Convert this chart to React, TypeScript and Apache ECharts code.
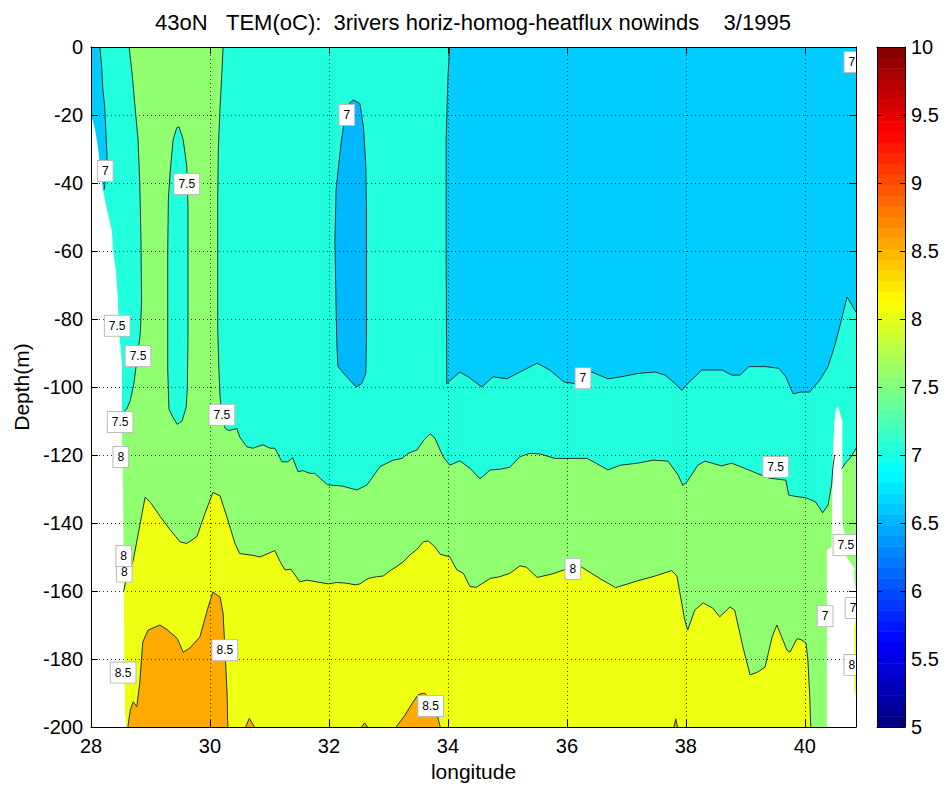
import React, { useEffect, useRef } from 'react';
import * as echarts from 'echarts';

type P = [number, number];

const TITLE = '43oN\u00a0\u00a0\u00a0TEM(oC):\u00a0\u00a03rivers horiz-homog-heatflux nowinds\u00a0\u00a0\u00a0\u00a03/1995';
const X_NAME = 'longitude';
const Y_NAME = 'Depth(m)';
const X_MIN = 28;
const X_MAX = 40.86;
const Y_MIN = -200;
const Y_MAX = 0;
const CB_MIN = 5;
const CB_MAX = 10;

// 7.5 contour: left edge of the green band
const c75Left: P[] = [
  [28.64, 0], [28.69, -7.6], [28.74, -17.6], [28.79, -27], [28.82, -40], [28.84, -57], [28.85, -75],
  [28.83, -84], [28.78, -91], [28.72, -99], [28.66, -104], [28.6, -106.5], [28.53, -107.5],
];
// 7.5 contour: right edge of the green band and the long cyan/green boundary
const c75Main: P[] = [
  [30.22, 0], [30.2, -7.6], [30.17, -17.6], [30.14, -30], [30.13, -45], [30.13, -65], [30.13, -83],
  [30.15, -95], [30.17, -103], [30.21, -109], [30.25, -112], [30.31, -112.8], [30.37, -112.6],
  [30.45, -112.2], [30.5, -114.7], [30.62, -117.6], [30.72, -118], [30.89, -117], [31.01, -118],
  [31.09, -118], [31.21, -122], [31.31, -122], [31.39, -120.8], [31.48, -124.9], [31.56, -124.6],
  [31.68, -125.4], [31.76, -125.4], [31.98, -128.8], [32.22, -129.1], [32.47, -130.3], [32.64, -128.8],
  [32.86, -123.4], [33.08, -121.5], [33.23, -121], [33.33, -119.5], [33.48, -118.5], [33.6, -115.5],
  [33.7, -113.8], [33.78, -115], [33.92, -120.5], [34.03, -123], [34.2, -121.7], [34.37, -123.9],
  [34.54, -127], [34.71, -124.4], [34.87, -124.2], [35.04, -123.6], [35.21, -120.5], [35.38, -119.5],
  [35.55, -119.7], [35.8, -121], [36.0, -121], [36.34, -121], [36.5, -122.5], [36.69, -124.4],
  [36.9, -123], [37.19, -122.4], [37.45, -121.5], [37.7, -121.8], [37.87, -125.9], [37.95, -129],
  [38.03, -127.6], [38.2, -123], [38.32, -121.8], [38.6, -123.2], [38.77, -122.4], [39.0, -124],
  [39.18, -125.3], [39.4, -126.8], [39.68, -127.4], [39.73, -131.8], [39.85, -132.2], [40.02, -132.6],
  [40.18, -133.8], [40.3, -137], [40.39, -134.7], [40.45, -128.8], [40.47, -123.8], [40.5, -120],
];
// 7.5 contour right of the white spike
const c75Spike: P[] = [[40.62, -124], [40.7, -122], [40.78, -120.5], [40.86, -118]];
// closed 7.5 contour (cyan tongue inside green band)
const c75Ellipse: P[] = [
  [29.48, -23.5], [29.55, -27.4], [29.61, -35], [29.63, -47], [29.63, -86], [29.62, -100], [29.6, -106],
  [29.53, -110], [29.45, -111], [29.38, -109], [29.31, -106.5], [29.29, -95], [29.29, -60], [29.3, -45],
  [29.33, -37], [29.38, -27.4], [29.44, -23.8],
];
// 7 contour, large region east of 34E
const c7Right: P[] = [
  [34.03, 0], [34.0, -9], [33.97, -27], [33.97, -60], [33.98, -99], [34.07, -97.6], [34.2, -95.6],
  [34.34, -97], [34.57, -100], [34.76, -97], [34.99, -97.6], [35.21, -95.6], [35.5, -93], [35.71, -95],
  [35.95, -98.5], [36.12, -99], [36.42, -95.6], [36.69, -97.6], [36.91, -97], [37.2, -96], [37.48, -95.6],
  [37.65, -96.5], [37.82, -99], [37.93, -101], [38.03, -99], [38.27, -95], [38.61, -95], [38.77, -96.5],
  [38.91, -96.5], [39.06, -94], [39.34, -94], [39.56, -94.5], [39.68, -97], [39.8, -102], [39.93, -101.5],
  [40.08, -101.5], [40.25, -98], [40.39, -94], [40.5, -88], [40.59, -82], [40.71, -73.5], [40.86, -78],
];
// 7 contour, top-left strip
const c7TopLeft: P[] = [
  [28.15, 0], [28.18, -6], [28.2, -12.6], [28.23, -17.6], [28.25, -25], [28.27, -32], [28.25, -38], [28.22, -42],
];
// closed 7 contour near 32.4E
const c7Ellipse: P[] = [
  [32.41, -15.6], [32.52, -16.6], [32.58, -23.4], [32.62, -35.2], [32.63, -47], [32.63, -86], [32.62, -96],
  [32.55, -99], [32.46, -100], [32.35, -98], [32.15, -94], [32.13, -86], [32.1, -57], [32.12, -42],
  [32.16, -35.2], [32.21, -27.4], [32.27, -20.5], [32.34, -16.6],
];
// 8 contour
const c8: P[] = [
  [28.55, -160], [28.6, -156], [28.71, -151], [28.86, -137], [28.91, -132.4], [29.0, -134], [29.16, -138],
  [29.33, -142], [29.5, -145.6], [29.61, -146], [29.78, -144], [29.92, -137], [30.05, -131], [30.17, -132],
  [30.28, -138], [30.42, -146], [30.5, -149], [30.72, -149.5], [30.84, -150], [31.01, -148.7], [31.09, -148.1],
  [31.18, -151.4], [31.26, -153.8], [31.36, -153.6], [31.43, -155.3], [31.51, -157.3], [31.63, -156.8],
  [31.79, -157.3], [31.99, -157.9], [32.13, -157.5], [32.3, -157.7], [32.44, -158.2], [32.52, -157.9],
  [32.66, -156.3], [32.8, -155.8], [32.91, -155.6], [33.03, -154], [33.14, -152.8], [33.25, -151.4],
  [33.36, -149.4], [33.47, -147.9], [33.59, -145.5], [33.67, -145.3], [33.78, -147], [33.87, -149.2],
  [34.03, -149.9], [34.15, -153.8], [34.26, -154.8], [34.37, -158.7], [34.48, -158.9], [34.71, -156.3],
  [34.87, -155.8], [35.04, -154.8], [35.21, -152.6], [35.32, -153], [35.5, -156], [35.75, -155],
  [36.0, -153.5], [36.25, -153], [36.57, -156.5], [36.82, -159], [37.19, -157], [37.5, -155.5],
  [37.76, -154], [37.85, -155.6], [37.9, -160.6], [37.98, -168.5], [38.03, -171.5], [38.15, -165.6],
  [38.29, -163.5], [38.45, -165], [38.57, -167.6], [38.74, -164.7], [38.82, -165.6], [38.96, -176.5],
  [39.08, -184.7], [39.21, -183.8], [39.33, -182.4], [39.45, -173.5], [39.53, -170], [39.61, -173.5],
  [39.7, -177.4], [39.75, -178], [39.87, -174], [39.95, -174.4], [40.02, -175.3], [40.05, -180],
  [40.08, -190], [40.1, -200],
];
// 8.5 contours
const c85Left: P[] = [
  [28.62, -200], [28.66, -195], [28.71, -192.6], [28.77, -194], [28.82, -187], [28.87, -175], [28.96, -171.5],
  [29.16, -170], [29.29, -171.5], [29.45, -174], [29.55, -178], [29.66, -176.8], [29.83, -173.5],
  [29.97, -164.7], [30.05, -160.3], [30.17, -161.8], [30.22, -166.5], [30.25, -176.5], [30.29, -191], [30.3, -200],
];
const c85Peak: P[] = [
  [33.13, -200], [33.28, -196.5], [33.4, -193], [33.5, -190.5], [33.6, -190], [33.7, -191.5], [33.8, -195], [33.87, -200],
];
const c85Bump1: P[] = [[30.6, -200], [30.66, -197.5], [30.75, -200]];
const c85Bump2: P[] = [[32.55, -200], [32.6, -198.8], [32.65, -200]];
const c85Bump3: P[] = [[37.8, -200], [37.83, -197.6], [37.86, -200]];
// no-data (land) areas
const whiteLeft: P[] = [
  [28, -20], [28.02, -21], [28.07, -24.4], [28.12, -30], [28.2, -42], [28.27, -48], [28.35, -54], [28.37, -60],
  [28.42, -66], [28.45, -74], [28.47, -83], [28.52, -93], [28.52, -113], [28.54, -132], [28.55, -152],
  [28.56, -181], [28.57, -196], [28.6, -200], [28, -200],
];
const whiteRight: P[] = [
  [40.5, -110], [40.52, -107], [40.55, -105.5], [40.58, -107], [40.63, -110], [40.63, -140], [40.67, -143],
  [40.7, -150], [40.86, -154], [40.86, -200], [40.37, -200], [40.37, -148], [40.45, -147], [40.47, -120],
];
const sliverGreen: P[] = [[40.82, -154], [40.86, -153], [40.86, -160], [40.84, -158]];
const sliverYellow: P[] = [[40.83, -171], [40.86, -168], [40.86, -191], [40.83, -189]];

// contour labels: lon, depth, level
const labels: [number, number, string][] = [
  [32.3, -20, '7'], [28.24, -36.5, '7'], [29.61, -40.3, '7.5'], [28.44, -82, '7.5'], [28.79, -90.9, '7.5'],
  [28.49, -110.3, '7.5'], [30.2, -108.2, '7.5'], [28.5, -120.6, '8'], [36.27, -97.4, '7'], [39.51, -123.5, '7.5'],
  [28.56, -154.3, '8'], [28.55, -149.7, '8'], [36.1, -153.5, '8'], [40.69, -146.5, '7.5'], [40.34, -167.4, '7'],
  [40.81, -165, '7'], [40.79, -181.8, '8'], [28.54, -184, '8.5'], [30.25, -177.4, '8.5'], [33.71, -193.8, '8.5'],
  [40.79, -4.4, '7'],
];

const C_CYAN = '#22FFDD';
const C_LBLUE = '#00CCFF';
const C_EBLUE = '#00B8FF';
const C_GREEN = '#90FF70';
const C_YELLOW = '#EEFF12';
const C_ORANGE = '#FFAA00';
const C_LINE = '#1c3636';
const FONT = 'Liberation Sans, Arial, Helvetica, sans-serif';

const clamp = (v: number) => Math.max(0, Math.min(1, v));
const jet = (t: number) => {
  const r = clamp(1.5 - Math.abs(4 * t - 3));
  const g = clamp(1.5 - Math.abs(4 * t - 2));
  const b = clamp(1.5 - Math.abs(4 * t - 1));
  return `rgb(${Math.round(r * 255)},${Math.round(g * 255)},${Math.round(b * 255)})`;
};
const CB_BINS = 64;

function polySeries(pts: P[], fill: string, z = 2) {
  return {
    type: 'custom', xAxisIndex: 0, yAxisIndex: 0, clip: true, silent: true, z,
    data: pts,
    renderItem: (params: any, api: any) =>
      params.dataIndex !== 0 ? null : {
        type: 'polygon',
        shape: { points: pts.map((p) => api.coord(p)) },
        style: { fill, stroke: null },
      },
  };
}
function lineSeries(pts: P[], closed = false, z = 3) {
  const all = closed ? [...pts, pts[0]] : pts;
  return {
    type: 'custom', xAxisIndex: 0, yAxisIndex: 0, clip: true, silent: true, z,
    data: all,
    renderItem: (params: any, api: any) =>
      params.dataIndex !== 0 ? null : {
        type: 'polyline',
        shape: { points: all.map((p) => api.coord(p)) },
        style: { fill: null, stroke: C_LINE, lineWidth: 1 },
      },
  };
}

export default function App() {
  const ref = useRef<HTMLDivElement>(null);
  useEffect(() => {
    if (!ref.current) return;
    const chart = echarts.init(ref.current, undefined, { renderer: 'svg' });

    const greenPoly: P[] = [
      ...c75Left, [28, -108], [28, -200], [40.86, -200],
      ...[...c75Spike].reverse(), [40.55, -122],
      ...[...c75Main].reverse(),
    ];
    const yellowPoly: P[] = [[28.5, -160], ...c8, [28.5, -200]];
    const cbData = Array.from({ length: CB_BINS }, (_, i) => [0.5, CB_MIN + ((i + 0.5) * (CB_MAX - CB_MIN)) / CB_BINS]);

    const axisText = { color: '#000', fontSize: 20, fontFamily: FONT };

    const option: any = {
      animation: false,
      backgroundColor: '#fff',
      title: {
        text: TITLE, left: 'center', top: 6,
        textStyle: { color: '#000', fontSize: 22, fontWeight: 'normal', fontFamily: FONT },
      },
      grid: [
        { left: 91, top: 47, width: 765, height: 680 },
        { left: 877, top: 47, width: 28, height: 680 },
      ],
      xAxis: [
        {
          gridIndex: 0, type: 'value', min: X_MIN, max: X_MAX, interval: 2, position: 'bottom', z: 5,
          axisLine: { show: true, onZero: false, lineStyle: { color: '#000', width: 1 } },
          axisTick: { show: true, inside: true, length: 7, lineStyle: { color: '#000' } },
          axisLabel: { ...axisText, margin: 9, showMaxLabel: false, formatter: (v: number) => (v % 2 === 0 ? String(v) : '') },
          splitLine: { show: true, lineStyle: { color: '#333', type: [1, 3], width: 1 } },
          name: X_NAME, nameLocation: 'middle', nameGap: 34,
          nameTextStyle: { color: '#000', fontSize: 21, fontFamily: FONT },
        },
        {
          gridIndex: 0, type: 'value', min: X_MIN, max: X_MAX, interval: 2, position: 'top', z: 5,
          axisLine: { show: true, onZero: false, lineStyle: { color: '#000', width: 1 } },
          axisTick: { show: true, inside: true, length: 7, lineStyle: { color: '#000' } },
          axisLabel: { show: false }, splitLine: { show: false },
        },
        {
          gridIndex: 1, type: 'value', min: 0, max: 1, position: 'bottom', z: 5,
          axisLine: { show: true, onZero: false, lineStyle: { color: '#000', width: 1 } },
          axisTick: { show: false }, axisLabel: { show: false }, splitLine: { show: false },
        },
        {
          gridIndex: 1, type: 'value', min: 0, max: 1, position: 'top', z: 5,
          axisLine: { show: true, onZero: false, lineStyle: { color: '#000', width: 1 } },
          axisTick: { show: false }, axisLabel: { show: false }, splitLine: { show: false },
        },
      ],
      yAxis: [
        {
          gridIndex: 0, type: 'value', min: Y_MIN, max: Y_MAX, interval: 20, position: 'left', z: 5,
          axisLine: { show: true, onZero: false, lineStyle: { color: '#000', width: 1 } },
          axisTick: { show: true, inside: true, length: 7, lineStyle: { color: '#000' } },
          axisLabel: { ...axisText, margin: 8 },
          splitLine: { show: true, lineStyle: { color: '#333', type: [1, 3], width: 1 } },
          name: Y_NAME, nameLocation: 'middle', nameGap: 58, nameRotate: 90,
          nameTextStyle: { color: '#000', fontSize: 21, fontFamily: FONT },
        },
        {
          gridIndex: 0, type: 'value', min: Y_MIN, max: Y_MAX, interval: 20, position: 'right', z: 5,
          axisLine: { show: true, onZero: false, lineStyle: { color: '#000', width: 1 } },
          axisTick: { show: true, inside: true, length: 7, lineStyle: { color: '#000' } },
          axisLabel: { show: false }, splitLine: { show: false },
        },
        {
          gridIndex: 1, type: 'value', min: CB_MIN, max: CB_MAX, interval: 0.5, position: 'right', z: 5,
          axisLine: { show: true, onZero: false, lineStyle: { color: '#000', width: 1 } },
          axisTick: { show: true, inside: true, length: 5, lineStyle: { color: '#000' } },
          axisLabel: { ...axisText, margin: 6 },
          splitLine: { show: false },
        },
        {
          gridIndex: 1, type: 'value', min: CB_MIN, max: CB_MAX, interval: 0.5, position: 'left', z: 5,
          axisLine: { show: true, onZero: false, lineStyle: { color: '#000', width: 1 } },
          axisTick: { show: true, inside: true, length: 5, lineStyle: { color: '#000' } },
          axisLabel: { show: false }, splitLine: { show: false },
        },
      ],
      series: [
        polySeries([[X_MIN, Y_MAX], [X_MAX, Y_MAX], [X_MAX, Y_MIN], [X_MIN, Y_MIN]], C_CYAN),
        polySeries(greenPoly, C_GREEN),
        polySeries(c75Ellipse, C_CYAN),
        polySeries([...c7Right, [X_MAX, Y_MAX]], C_LBLUE),
        polySeries([...c7TopLeft, [X_MIN, -42], [X_MIN, Y_MAX]], C_LBLUE),
        polySeries(c7Ellipse, C_EBLUE),
        polySeries(yellowPoly, C_YELLOW),
        polySeries(c85Left, C_ORANGE),
        polySeries(c85Peak, C_ORANGE),
        polySeries(c85Bump1, C_ORANGE),
        polySeries(c85Bump2, C_ORANGE),
        polySeries(c85Bump3, C_ORANGE),
        polySeries(whiteLeft, '#fff'),
        polySeries(whiteRight, '#fff'),
        polySeries(sliverGreen, C_GREEN),
        polySeries(sliverYellow, C_YELLOW),
        lineSeries(c75Left),
        lineSeries(c75Main),
        lineSeries(c75Spike),
        lineSeries(c75Ellipse, true),
        lineSeries(c7Right),
        lineSeries(c7TopLeft),
        lineSeries(c7Ellipse, true),
        lineSeries(c8),
        lineSeries(c85Left),
        lineSeries(c85Peak),
        lineSeries(c85Bump1),
        lineSeries(c85Bump2),
        lineSeries(c85Bump3),
        {
          type: 'custom', xAxisIndex: 0, yAxisIndex: 0, clip: true, silent: true, z: 10,
          data: labels.map((l) => [l[0], l[1]]),
          renderItem: (params: any, api: any) => {
            const p = api.coord([api.value(0), api.value(1)]);
            return {
              type: 'text', x: p[0], y: p[1],
              style: {
                text: labels[params.dataIndex][2], fill: '#000', fontSize: 12, fontFamily: FONT,
                align: 'center', verticalAlign: 'middle',
                backgroundColor: '#fff', borderColor: '#bbb', borderWidth: 1, padding: [4, 4],
              },
            };
          },
        },
        {
          type: 'custom', xAxisIndex: 2, yAxisIndex: 2, silent: true, z: 2,
          data: cbData,
          renderItem: (params: any, api: any) => {
            const i = params.dataIndex;
            const lo = CB_MIN + (i * (CB_MAX - CB_MIN)) / CB_BINS;
            const hi = CB_MIN + ((i + 1) * (CB_MAX - CB_MIN)) / CB_BINS;
            const a = api.coord([0, hi]);
            const b = api.coord([1, lo]);
            return {
              type: 'rect',
              shape: { x: a[0], y: a[1], width: b[0] - a[0], height: b[1] - a[1] + 0.5 },
              style: { fill: jet((i + 0.5) / CB_BINS), stroke: null },
            };
          },
        },
      ],
    };
    chart.setOption(option);
    return () => chart.dispose();
  }, []);
  return <div ref={ref} style={{ position: 'absolute', left: 0, top: 0, width: 946, height: 787 }} />;
}
